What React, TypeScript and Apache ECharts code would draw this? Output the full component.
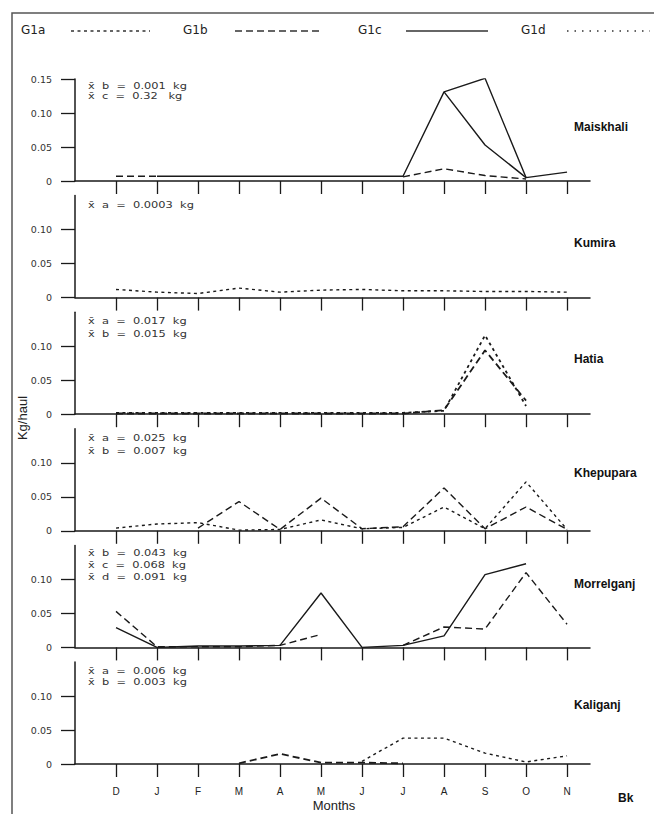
import React, { useEffect, useRef } from 'react';
import * as echarts from 'echarts';

// ---------- data ----------
const months = ['D', 'J', 'F', 'M', 'A', 'M', 'J', 'J', 'A', 'S', 'O', 'N'];
const yTicksTop = [0, 0.05, 0.1, 0.15];
const yTicksLower = [0, 0.05, 0.1];
const stations = ['Maiskhali', 'Kumira', 'Hatia', 'Khepupara', 'Morrelganj', 'Kaliganj'];
const legendNames = ['G1a', 'G1b', 'G1c', 'G1d'];

// Maiskhali
const maiskhaliB = [0.007, 0.007, null, null, null, null, null, 0.006, 0.018, 0.008, 0.003, null];
const maiskhaliC = [null, 0.007, 0.007, 0.007, 0.007, 0.007, 0.007, 0.007, 0.131, 0.151, 0.005, 0.013];
const maiskhaliC2 = [null, null, null, null, null, null, null, null, 0.131, 0.053, 0.005, null];
// Kumira
const kumiraA = [0.012, 0.008, 0.006, 0.014, 0.008, 0.011, 0.012, 0.01, 0.01, 0.009, 0.009, 0.008];
// Hatia
const hatiaA = [0.002, 0.002, 0.002, 0.002, 0.002, 0.002, 0.002, 0.002, 0.005, 0.116, 0.012, null];
const hatiaB = [0.001, 0.001, 0.001, 0.001, 0.001, 0.001, 0.001, 0.001, 0.006, 0.094, 0.02, null];
// Khepupara
const khepuparaA = [0.004, 0.01, 0.012, 0.001, 0.002, 0.016, 0.003, 0.005, 0.035, 0.003, 0.072, 0.002];
const khepuparaB = [null, null, 0.004, 0.043, 0.002, 0.048, 0.003, 0.006, 0.063, 0.003, 0.035, 0.002];
// Morrelganj
const morrelganjB = [0.053, 0.001, 0.001, 0.001, 0.003, 0.019, null, 0.003, 0.03, 0.027, 0.11, 0.034];
const morrelganjC = [0.029, 0.0, 0.002, 0.002, 0.003, 0.08, 0.0, 0.003, 0.017, 0.107, 0.123, null];
// Kaliganj
const kaliganjA = [null, null, null, null, null, null, 0.004, 0.038, 0.038, 0.016, 0.003, 0.012];
const kaliganjB = [null, null, null, 0.001, 0.015, 0.002, 0.002, 0.001, null, null, null, null];

// annotations (mean catch per group)
const annotGroups = [['b', 'c'], ['a'], ['a', 'b'], ['a', 'b'], ['b', 'c', 'd'], ['a', 'b']];
const annotValues = [
  ['0.001', '0.32 '],
  ['0.0003'],
  ['0.017', '0.015'],
  ['0.025', '0.007'],
  ['0.043', '0.068', '0.091'],
  ['0.006', '0.003'],
];

// ---------- styles ----------
const INK = '#1a1a1a';
const dashOf: Record<string, any> = {
  a: [3, 3.5],
  b: [7, 4],
  c: 'solid',
  d: [1.5, 6],
};

type PanelSeries = { panel: number; group: string; values: (number | null)[]; width?: number };
const panelSeries: PanelSeries[] = [
  { panel: 0, group: 'b', values: maiskhaliB },
  { panel: 0, group: 'c', values: maiskhaliC },
  { panel: 0, group: 'c', values: maiskhaliC2 },
  { panel: 1, group: 'a', values: kumiraA },
  { panel: 2, group: 'a', values: hatiaA, width: 1.8 },
  { panel: 2, group: 'b', values: hatiaB, width: 1.8 },
  { panel: 3, group: 'a', values: khepuparaA },
  { panel: 3, group: 'b', values: khepuparaB },
  { panel: 4, group: 'b', values: morrelganjB },
  { panel: 4, group: 'c', values: morrelganjC },
  { panel: 5, group: 'a', values: kaliganjA },
  { panel: 5, group: 'b', values: kaliganjB, width: 1.8 },
];

const PANEL_TOP0 = 79;
const PANEL_STEP = 116.6;
const PANEL_H = 102;
const labelOffsets = [54, 55, 55, 58, 63, 59];
const annotOffsets = [96, 93, 94, 93, 95, 94];
const annotSpacing = [10, 11, 13, 13, 12, 11];

export default function App() {
  const ref = useRef<HTMLDivElement>(null);

  useEffect(() => {
    document.body.style.margin = '0';
    if (!ref.current) return;
    const chart = echarts.init(ref.current, null, { renderer: 'svg' });

    const grids: any[] = [];
    const xAxes: any[] = [];
    const yAxes: any[] = [];
    const graphics: any[] = [];

    stations.forEach((name, i) => {
      const top = PANEL_TOP0 + i * PANEL_STEP;
      const zero = top + PANEL_H;
      const isLast = i === stations.length - 1;
      grids.push({ left: 75, top, width: 515, height: PANEL_H, containLabel: false });
      xAxes.push({
        type: 'value',
        gridIndex: i,
        min: -1,
        max: 11.56,
        axisLine: { show: true, onZero: false, lineStyle: { color: INK, width: 1.5 } },
        axisTick: {
          show: true,
          customValues: months.map((_, k) => k),
          length: 13,
          lineStyle: { color: INK, width: 1.3 },
        },
        axisLabel: {
          show: isLast,
          customValues: months.map((_, k) => k),
          formatter: (v: number) => months[Math.round(v)] ?? '',
          margin: 22,
          fontSize: 10,
          fontFamily: 'Liberation Sans, Arial, sans-serif',
          color: '#222',
        },
        splitLine: { show: false },
      });
      const ticks = i === 0 ? yTicksTop : yTicksLower;
      yAxes.push({
        type: 'value',
        gridIndex: i,
        min: 0,
        max: 0.15,
        interval: 0.05,
        axisLine: { show: true, onZero: false, lineStyle: { color: INK, width: 1.5 } },
        axisTick: { show: true, customValues: ticks, length: 14, lineStyle: { color: INK, width: 1.3 } },
        axisLabel: {
          show: true,
          customValues: ticks,
          formatter: (v: number) => (v === 0 ? '0' : v.toFixed(2)),
          margin: 23,
          fontSize: 9.5,
          fontFamily: 'DejaVu Sans, sans-serif',
          color: '#333',
        },
        splitLine: { show: false },
      });

      // station name
      graphics.push({
        type: 'text',
        x: 574,
        y: zero - labelOffsets[i],
        style: {
          text: name,
          fontSize: 12,
          fontWeight: 'bold',
          fontFamily: 'Liberation Sans Narrow, Liberation Sans, Arial, sans-serif',
          fill: '#111',
          align: 'left',
          verticalAlign: 'middle',
        },
      });
      // annotations
      annotGroups[i].forEach((g, k) => {
        graphics.push({
          type: 'text',
          x: 88,
          y: zero - annotOffsets[i] + k * annotSpacing[i],
          scaleX: 1.2,
          style: {
            text: `x\u0304  ${g}  =  ${annotValues[i][k]}  kg`,
            fontSize: 9.5,
            fontFamily: 'DejaVu Sans, sans-serif',
            fill: '#333',
            align: 'left',
            verticalAlign: 'middle',
          },
        });
      });
    });

    // legend row
    const legendText = [21, 183, 358, 521];
    const legendLine = [
      [71, 150],
      [235, 321],
      [406, 488],
      [567, 650],
    ];
    const groupKeys = ['a', 'b', 'c', 'd'];
    legendNames.forEach((n, k) => {
      graphics.push({
        type: 'text',
        x: legendText[k],
        y: 30,
        style: {
          text: n,
          fontSize: 12,
          fontFamily: 'DejaVu Sans, sans-serif',
          fill: '#222',
          align: 'left',
          verticalAlign: 'middle',
        },
      });
      const dash = dashOf[groupKeys[k]];
      graphics.push({
        type: 'line',
        shape: { x1: legendLine[k][0], y1: 31, x2: legendLine[k][1], y2: 31 },
        style: {
          stroke: '#333',
          lineWidth: 1.4,
          lineDash: dash === 'solid' ? null : dash,
        },
      });
    });

    // frame
    graphics.push({
      type: 'rect',
      shape: { x: 12, y: 13, width: 700, height: 900 },
      style: { fill: 'none', stroke: '#555', lineWidth: 1.5 },
      z: -1,
    });

    // axis titles etc.
    graphics.push({
      type: 'text',
      x: 22,
      y: 418,
      rotation: Math.PI / 2,
      style: {
        text: 'Kg/haul',
        fontSize: 13,
        fontFamily: 'Liberation Sans, Arial, sans-serif',
        fill: '#222',
        align: 'center',
        verticalAlign: 'middle',
      },
    });
    graphics.push({
      type: 'text',
      x: 334,
      y: 805,
      style: {
        text: 'Months',
        fontSize: 13,
        fontFamily: 'Liberation Sans, Arial, sans-serif',
        fill: '#222',
        align: 'center',
        verticalAlign: 'middle',
      },
    });
    graphics.push({
      type: 'text',
      x: 618,
      y: 798,
      style: {
        text: 'Bk',
        fontSize: 12,
        fontWeight: 'bold',
        fontFamily: 'Liberation Sans, Arial, sans-serif',
        fill: '#111',
        align: 'left',
        verticalAlign: 'middle',
      },
    });

    const series = panelSeries.map((s) => ({
      type: 'line',
      name: 'G1' + s.group,
      xAxisIndex: s.panel,
      yAxisIndex: s.panel,
      data: s.values.map((v, k) => [k, v]),
      showSymbol: false,
      symbol: 'none',
      connectNulls: false,
      lineStyle: {
        color: INK,
        width: s.width ?? 1.4,
        type: dashOf[s.group],
      },
      silent: true,
    }));

    chart.setOption({
      animation: false,
      backgroundColor: '#ffffff',
      grid: grids,
      xAxis: xAxes,
      yAxis: yAxes,
      series,
      graphic: graphics,
    });

    return () => chart.dispose();
  }, []);

  return <div ref={ref} style={{ width: 654, height: 814 }} />;
}
